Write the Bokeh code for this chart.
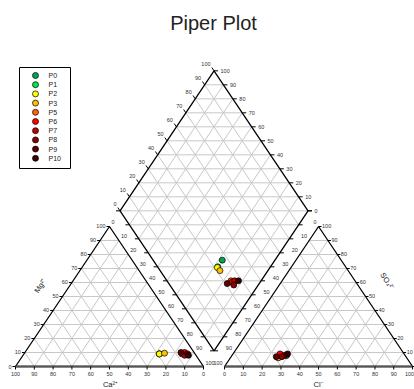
import numpy as np
from bokeh.plotting import figure
from bokeh.models import Range1d
from bokeh.embed import file_html
from bokeh.resources import INLINE
from bokeh.core.properties import value

# ---------------- data ----------------
names = ["P0", "P1", "P2", "P3", "P5", "P6", "P7", "P8", "P9", "P10"]
colors = ["#00a651", "#00e64d", "#ffff00", "#ffc000", "#ff6600",
          "#ff0000", "#c00000", "#8b0000", "#5c0000", "#3a0000"]
# cations (% meq)
ca = [19, 19, 19, 16, 7, 5, 6, 4, 7, 4]
mg = [9, 9, 9, 9.5, 9, 10, 8, 9, 10, 8]
na_k = [72, 72, 72, 74.5, 84, 85, 86, 87, 83, 88]
# anions (% meq)
cl = [29, 25.5, 25, 25.5, 26, 25, 28, 27, 24, 29]
so4 = [7.75, 6.5, 6.5, 6.3, 8, 9, 8, 7, 7, 9]
hco3 = [100 - a - b for a, b in zip(cl, so4)]
tick_values = [0, 10, 20, 30, 40, 50, 60, 70, 80, 90, 100]
title_text = "Piper Plot"

# ---------------- geometry ----------------
H = np.sqrt(3) / 2
OFF = 0.112
W, HG = 414, 389
SX, SY = 188.0, 161.66
X0 = -15 / SX
Y1 = 366 / SY
FONT = value("Liberation Sans")


def d(rx, ry):
    """reference-pixel position -> data coordinates"""
    return X0 + rx / SX, Y1 - ry / SY


def o(pdx, pdy):
    return pdx / SX, -pdy / SY


p = figure(width=W, height=HG, x_range=Range1d(X0, X0 + W / SX),
           y_range=Range1d(Y1 - HG / SY, Y1), output_backend="svg",
           toolbar_location=None, x_axis_type=None, y_axis_type=None,
           min_border=0)
p.outline_line_color = None
p.background_fill_color = "white"

BX, BY = 1 + OFF / 2, OFF * H
LT = [(0, 0), (1, 0), (0.5, H)]
RT = [(1 + OFF, 0), (2 + OFF, 0), (1.5 + OFF, H)]
DM = [(BX, BY), (BX - 0.5, BY + H), (BX, BY + 2 * H), (BX + 0.5, BY + H)]

# grid
gx, gy = [], []
for k in range(1, 10):
    t = k / 10
    for ox in (0, 1 + OFF):
        gx.append([ox + t / 2, ox + 1 - t / 2]); gy.append([t * H, t * H])
        gx.append([ox + 1 - t, ox + (1 - t) / 2]); gy.append([0, (1 - t) * H])
        gx.append([ox + t, ox + t + (1 - t) / 2]); gy.append([0, (1 - t) * H])
    gx.append([BX - 0.5 * t, BX - 0.5 * t + 0.5]); gy.append([BY + H * t, BY + H * t + H])
    gx.append([BX + 0.5 * t, BX + 0.5 * t - 0.5]); gy.append([BY + H * t, BY + H * t + H])
for k in range(1, 20):
    s = k / 10
    w = s if s <= 1 else 2 - s
    gx.append([BX - 0.5 * w, BX + 0.5 * w]); gy.append([BY + H * s, BY + H * s])
p.multi_line(gx, gy, line_color="#c8c8c8", line_width=1)

# outlines
for poly in (LT, RT, DM):
    xs = [q[0] for q in poly] + [poly[0][0]]
    ys = [q[1] for q in poly] + [poly[0][1]]
    p.line(xs, ys, line_color="black", line_width=1.3)
p.multi_line([[0, 1], [1 + OFF, 2 + OFF]], [[0, 0], [0, 0]], line_color="#555555", line_width=1.8)

# ticks & labels
tx, ty = [], []
lab_x, lab_y, lab_t, lab_al = [], [], [], []


def add_tick(x, y, pdx, pdy):
    dx, dy = o(pdx, pdy)
    tx.append([x, x + dx]); ty.append([y, y + dy])


def add_label(x, y, pdx, pdy, txt, al):
    dx, dy = o(pdx, pdy)
    lab_x.append(x + dx); lab_y.append(y + dy); lab_t.append(txt); lab_al.append(al)


for v in tick_values:
    t = v / 100
    add_tick(1 - t, 0, 0, 3)
    add_label(1 - t, 0, 0, 7.5, str(v), "center")
    add_tick(1 + OFF + t, 0, 0, 3)
    add_label(1 + OFF + t, 0, -3 if v == 100 else 0, 7.5, str(v), "center")
    add_tick(t / 2, t * H, -3, 0)
    add_label(t / 2, t * H, -4, 0, str(v), "right")
    add_label(0.5 + t / 2, H * (1 - t), 2, -4, str(v), "left")
    add_label(1.5 + OFF - t / 2, H * (1 - t), -2, -4, str(v), "right")
    add_tick(2 + OFF - t / 2, t * H, 3, 0)
    if v > 0:
        add_label(2 + OFF - t / 2, t * H, 3.5, 0, str(v), "left")
    xu, yu = BX - 0.5 + 0.5 * t, BY + H + H * t
    add_tick(xu, yu, -2.2, -3.3)
    add_label(xu, yu, -3.5, -7, str(v), "right")
    xr, yr = BX + 0.5 - 0.5 * t, BY + H + H * t
    add_tick(xr, yr, 4, 0)
    add_label(xr, yr, 6.5, 0, str(v), "left")
    add_tick(BX - 0.5 * t, BY + H * t, -4, 0)
    add_tick(BX + 0.5 * t, BY + H * t, 4, 0)

p.multi_line(tx, ty, line_color="black", line_width=1)
for al in ("left", "right", "center"):
    idx = [i for i, a in enumerate(lab_al) if a == al]
    p.text([lab_x[i] for i in idx], [lab_y[i] for i in idx], text=[lab_t[i] for i in idx],
           text_align=al, text_baseline="middle", text_font=FONT,
           text_font_size="5.5px", text_color="#333333")

# axis titles
ax_t = [("Ca²⁺", 110, 384, 0), ("Cl⁻", 318, 384, 0),
        ("Mg²⁺", 40, 285, 0.983), ("SO₄²⁻", 387, 281, -0.983)]
for txt, rx, ry, ang in ax_t:
    x, y = d(rx, ry)
    p.text([x], [y], text=[txt], angle=ang, text_align="center", text_baseline="middle",
           text_font=FONT, text_font_size="7.5px", text_color="#222222")

# data points
arr = lambda a: np.array(a, dtype=float)
cax, cay = arr(na_k) / 100 + arr(mg) / 200, arr(mg) / 100 * H
anx, any_ = 1 + OFF + arr(cl) / 100 + arr(so4) / 200, arr(so4) / 100 * H
C = (arr(ca) + arr(mg)) / 100
A = (arr(cl) + arr(so4)) / 100
dmx, dmy = BX + 0.5 * (A - C), BY + H * (A + C)
for xs, ys in ((cax, cay), (anx, any_), (dmx, dmy)):
    p.scatter(xs, ys, size=6, fill_color=colors, line_color="black", line_width=0.7)

# legend
l0, t0 = d(19, 67)
r0, b0 = d(70, 168)
p.quad(left=[l0], right=[r0], top=[t0], bottom=[b0], fill_color="white",
       line_color="black", line_width=1)
lmx, lmy, ltx = [], [], []
for i, nm in enumerate(names):
    mx, my = d(35, 75 + 9.2 * i)
    tx2, _ = d(48, 0)
    lmx.append(mx); lmy.append(my); ltx.append(tx2)
p.scatter(lmx, lmy, size=6, fill_color=colors, line_color="black", line_width=0.7)
p.text(ltx, lmy, text=names, text_align="left", text_baseline="middle",
       text_font=FONT, text_font_size="7px", text_color="#222222")

# title
tx3, ty3 = d(213, 22)
p.text([tx3], [ty3], text=[title_text], text_align="center", text_baseline="middle",
       text_font=FONT, text_font_size="20px", text_color="#222222")

open("out.html", "w").write(file_html(p, INLINE))
